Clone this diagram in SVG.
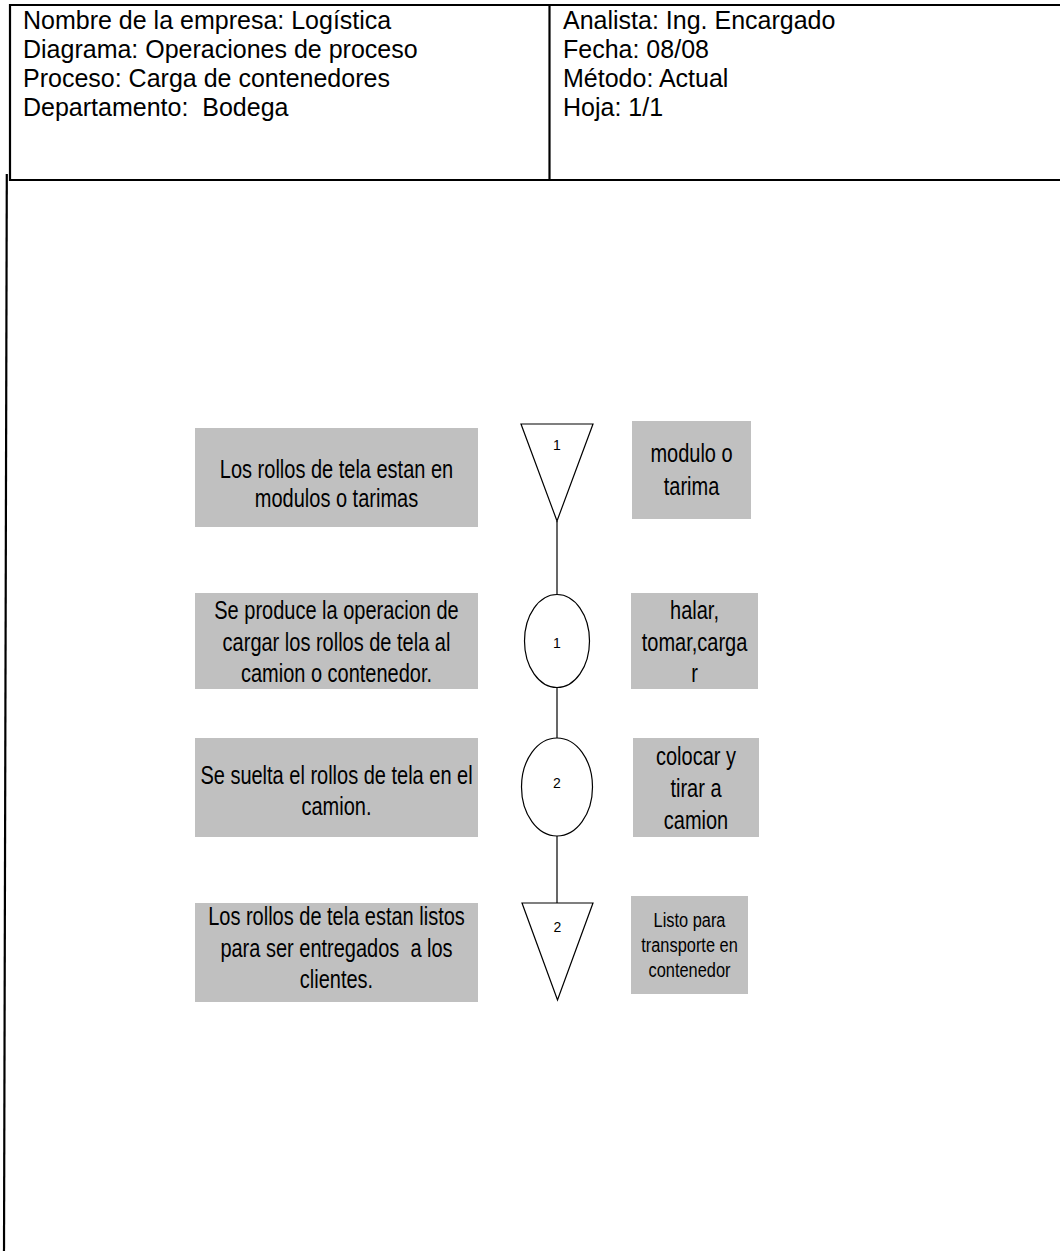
<svg xmlns="http://www.w3.org/2000/svg" width="1060" height="1251" viewBox="0 0 1060 1251">
  <style>
    .hdr { font-family: "Liberation Sans", Arial, sans-serif; font-size: 25px; fill: #000; white-space: pre; }
    .frame { stroke: #000; stroke-width: 2.2; fill: none; }
    .box { fill: #c0c0c0; stroke: none; }
    .lbl { font-family: "Liberation Sans", Arial, sans-serif; font-size: 25px; fill: #000; text-anchor: middle; white-space: pre; }
    .lbl-sm { font-family: "Liberation Sans", Arial, sans-serif; font-size: 21px; fill: #000; text-anchor: middle; white-space: pre; }
    .sym { fill: #fff; stroke: #000; stroke-width: 1.2; }
    .num { font-family: "Liberation Sans", Arial, sans-serif; font-size: 14px; fill: #000; text-anchor: middle; }
    .conn { stroke: #000; stroke-width: 1.2; fill: none; }
  </style>

  <rect width="1060" height="1251" fill="#fff"/>

  <!-- Header form -->
  <g id="header">
    <line class="frame" x1="9" y1="5" x2="1060" y2="5"/>
    <line class="frame" x1="9" y1="180" x2="1060" y2="180"/>
    <line class="frame" x1="10" y1="4" x2="10" y2="181"/>
    <line class="frame" x1="549.5" y1="4" x2="549.5" y2="181"/>
    <text class="hdr" x="23" y="29">Nombre de la empresa: Logística</text>
    <text class="hdr" x="23" y="58">Diagrama: Operaciones de proceso</text>
    <text class="hdr" x="23" y="87">Proceso: Carga de contenedores</text>
    <text class="hdr" x="23" y="116">Departamento:  Bodega</text>
    <text class="hdr" x="563" y="29">Analista: Ing. Encargado</text>
    <text class="hdr" x="563" y="58">Fecha: 08/08</text>
    <text class="hdr" x="563" y="87">Método: Actual</text>
    <text class="hdr" x="563" y="116">Hoja: 1/1</text>
  </g>

  <!-- Page margin line -->
  <line id="margin" class="frame" x1="6.8" y1="174" x2="4" y2="1251" stroke-width="2"/>

  <!-- Connectors between symbols -->
  <g id="connectors">
    <line class="conn" x1="557" y1="521" x2="557" y2="594.5"/>
    <line class="conn" x1="557" y1="687.5" x2="557" y2="738"/>
    <line class="conn" x1="557" y1="836" x2="557" y2="903"/>
  </g>

  <!-- Step 1: storage -->
  <g id="desc-1">
    <rect class="box" x="195" y="428" width="283" height="99"/>
    <text class="lbl" transform="translate(336.5 0) scale(0.8 1)"><tspan x="0" y="478">Los rollos de tela estan en</tspan><tspan x="0" y="507">modulos o tarimas</tspan></text>
  </g>
  <g id="storage-1">
    <polygon class="sym" points="521,424 593,424 557,521"/>
    <text class="num" x="557" y="450">1</text>
  </g>
  <g id="note-1">
    <rect class="box" x="632" y="421" width="119" height="98"/>
    <text class="lbl" transform="translate(691.5 0) scale(0.8 1)"><tspan x="0" y="462">modulo o</tspan><tspan x="0" y="495">tarima</tspan></text>
  </g>

  <!-- Step 2: operation 1 -->
  <g id="desc-2">
    <rect class="box" x="195" y="593" width="283" height="96"/>
    <text class="lbl" transform="translate(336.5 0) scale(0.8 1)"><tspan x="0" y="619">Se produce la operacion de</tspan><tspan x="0" y="651">cargar los rollos de tela al</tspan><tspan x="0" y="682">camion o contenedor.</tspan></text>
  </g>
  <g id="operation-1">
    <ellipse class="sym" cx="557" cy="641" rx="32.5" ry="46.5"/>
    <text class="num" x="557" y="648">1</text>
  </g>
  <g id="note-2">
    <rect class="box" x="631" y="593" width="127" height="96"/>
    <text class="lbl" transform="translate(694.5 0) scale(0.8 1)"><tspan x="0" y="619">halar,</tspan><tspan x="0" y="651">tomar,carga</tspan><tspan x="0" y="682">r</tspan></text>
  </g>

  <!-- Step 3: operation 2 -->
  <g id="desc-3">
    <rect class="box" x="195" y="738" width="283" height="99"/>
    <text class="lbl" transform="translate(336.5 0) scale(0.8 1)"><tspan x="0" y="784">Se suelta el rollos de tela en el</tspan><tspan x="0" y="815">camion.</tspan></text>
  </g>
  <g id="operation-2">
    <ellipse class="sym" cx="557" cy="787" rx="35.5" ry="49"/>
    <text class="num" x="557" y="788">2</text>
  </g>
  <g id="note-3">
    <rect class="box" x="633" y="738" width="126" height="99"/>
    <text class="lbl" transform="translate(696 0) scale(0.8 1)"><tspan x="0" y="765">colocar y</tspan><tspan x="0" y="797">tirar a</tspan><tspan x="0" y="829">camion</tspan></text>
  </g>

  <!-- Step 4: storage -->
  <g id="desc-4">
    <rect class="box" x="195" y="903" width="283" height="99"/>
    <text class="lbl" transform="translate(336.5 0) scale(0.8 1)"><tspan x="0" y="925">Los rollos de tela estan listos</tspan><tspan x="0" y="957">para ser entregados  a los</tspan><tspan x="0" y="988">clientes.</tspan></text>
  </g>
  <g id="storage-2">
    <polygon class="sym" points="522,903 593,903 557.5,1000"/>
    <text class="num" x="557.5" y="932">2</text>
  </g>
  <g id="note-4">
    <rect class="box" x="631" y="896" width="117" height="98"/>
    <text class="lbl-sm" transform="translate(689.5 0) scale(0.78 1)"><tspan x="0" y="927">Listo para</tspan><tspan x="0" y="952">transporte en</tspan><tspan x="0" y="977">contenedor</tspan></text>
  </g>
</svg>
